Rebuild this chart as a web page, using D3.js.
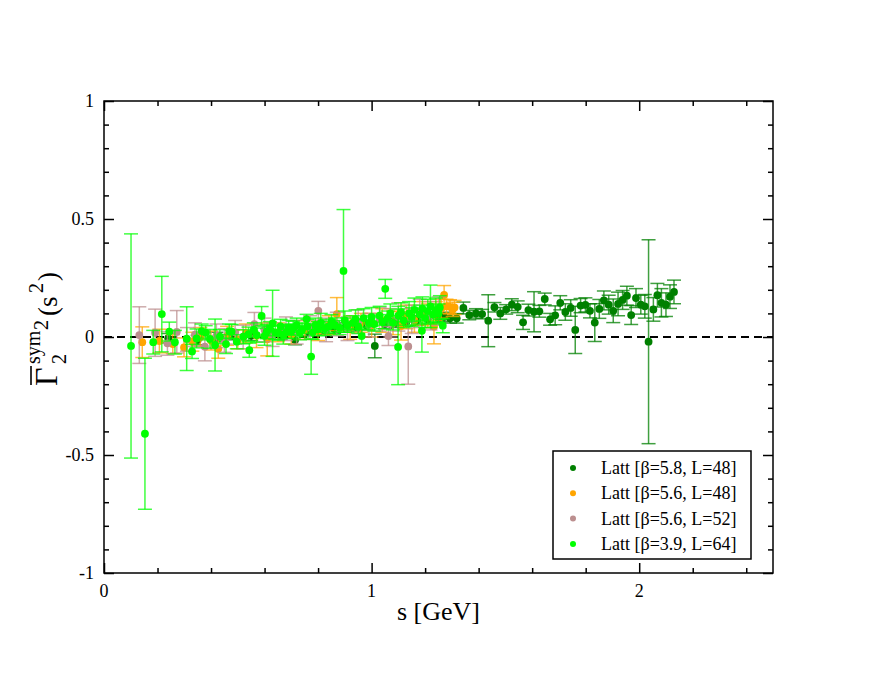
<!DOCTYPE html>
<html><head><meta charset="utf-8">
<script src="https://cdn.jsdelivr.net/npm/d3@7"></script>
<style>body{margin:0;background:#fff}svg{display:block}text{font-family:"Liberation Serif","Times New Roman",serif}</style>
</head><body>
<svg id="c" width="872" height="674"></svg>
<script>
// data: [s, value, error]
const seriesNames = ["Latt [β=5.8, L=48]","Latt [β=5.6, L=48]","Latt [β=5.6, L=52]","Latt [β=3.9, L=64]"];
const seriesColors = ["#008000","#ffa500","#bc8f8f","#00ff00"];
const darkGreen = [
[0.24,-0.005,0.02],[0.35,-0.013,0.02],[0.42,0.0,0.02],[0.48,0.008,0.02],[0.55,0.005,0.02],[0.61,0.015,0.02],[0.66,0.01,0.02],[0.714,-0.013,0.02],[0.76,0.025,0.02],[0.82,0.03,0.02],[0.86,0.035,0.02],[0.9,0.04,0.02],[0.94,0.045,0.02],[0.98,0.05,0.02],[1.012,-0.038,0.05],[1.05,0.055,0.02],[1.09,0.06,0.02],[1.13,0.065,0.02],[1.17,0.07,0.02],[1.21,0.075,0.02],[1.25,0.08,0.02],[1.27,0.085,0.02],
[1.293,0.079,0.02],[1.318,0.079,0.02],[1.343,0.123,0.025],[1.365,0.093,0.02],[1.390,0.100,0.02],[1.413,0.097,0.02],[1.436,0.069,0.11],[1.459,0.126,0.02],[1.481,0.100,0.025],[1.503,0.117,0.02],[1.524,0.137,0.025],[1.546,0.128,0.025],[1.566,0.062,0.03],[1.586,0.114,0.025],[1.607,0.107,0.085],[1.627,0.109,0.025],[1.647,0.161,0.025],[1.667,0.075,0.025],[1.686,0.092,0.04],[1.705,0.145,0.03],[1.724,0.106,0.035],[1.744,0.123,0.035],[1.761,0.030,0.10],[1.781,0.133,0.03],[1.799,0.136,0.03],[1.816,0.111,0.03],[1.834,0.061,0.08],[1.851,0.119,0.04],[1.868,0.155,0.04],[1.886,0.137,0.04],[1.903,0.111,0.05],[1.921,0.140,0.05],[1.938,0.157,0.04],[1.954,0.175,0.04],[1.970,0.093,0.04],[1.988,0.165,0.04],[2.006,0.137,0.04],[2.021,0.130,0.05],[2.035,-0.020,0.432],[2.053,0.117,0.05],[2.068,0.177,0.05],[2.083,0.145,0.06],[2.100,0.137,0.05],[2.115,0.171,0.05],[2.130,0.191,0.05]
];
const orange = [
[0.143,-0.022,0.065],[0.207,-0.017,0.05],[0.257,-0.030,0.04],[0.299,-0.044,0.04],[0.33,-0.02,0.04],[0.36,0.0,0.04],[0.40,-0.015,0.04],[0.427,-0.050,0.04],[0.46,0.005,0.04],[0.50,-0.01,0.04],[0.53,0.015,0.04],[0.57,0.005,0.05],[0.610,-0.010,0.07],[0.65,0.02,0.04],[0.70,0.01,0.04],[0.75,0.03,0.04],[0.80,0.025,0.04],[0.84,0.05,0.04],[0.870,0.097,0.07],[0.92,0.04,0.05],[0.96,0.06,0.04],[1.00,0.05,0.05],[1.04,0.07,0.05],[1.08,0.06,0.05],[1.110,0.047,0.06],[1.13,0.085,0.05],[1.16,0.07,0.05],[1.19,0.1,0.05],[1.21,0.09,0.05],[1.233,0.044,0.073],[1.24,0.11,0.04],[1.26,0.12,0.04],[1.271,0.178,0.04],[1.28,0.13,0.03],[1.293,0.128,0.03],[1.303,0.117,0.03],[1.31,0.125,0.03]
];
const rosyBrown = [
[0.132,0.008,0.12],[0.191,0.018,0.10],[0.237,-0.027,0.05],[0.272,0.022,0.09],[0.31,-0.01,0.05],[0.34,0.01,0.05],[0.377,-0.041,0.06],[0.42,0.005,0.05],[0.45,-0.015,0.05],[0.49,0.02,0.05],[0.52,0.0,0.05],[0.562,0.054,0.05],[0.6,0.03,0.05],[0.63,0.01,0.05],[0.68,0.035,0.05],[0.72,0.02,0.05],[0.77,0.04,0.05],[0.801,0.111,0.04],[0.83,0.03,0.05],[0.87,0.055,0.05],[0.91,0.035,0.05],[0.95,0.065,0.05],[0.99,0.05,0.05],[1.03,0.075,0.05],[1.063,0.004,0.04],[1.07,0.06,0.06],[1.10,0.085,0.06],[1.137,-0.040,0.16],[1.15,0.075,0.06],[1.18,0.1,0.06],[1.22,0.09,0.06],[1.25,0.11,0.06]
];
const brightGreen = [
[0.101,-0.038,0.475],[0.153,-0.41,0.32],[0.184,-0.022,0.05],[0.216,0.097,0.16],[0.244,0.023,0.04],[0.265,-0.022,0.05],[0.309,-0.007,0.135],[0.329,-0.061,0.03],[0.346,-0.006,0.04],[0.365,0.025,0.03],[0.380,0.018,0.03],[0.396,-0.008,0.04],[0.415,-0.034,0.11],[0.433,0.001,0.03],[0.456,-0.030,0.04],[0.468,0.025,0.03],[0.477,0.023,0.03],[0.496,-0.020,0.03],[0.521,0.001,0.03],[0.54,0.012,0.03],[0.543,-0.056,0.03],[0.56,0.03,0.03],[0.571,0.008,0.03],[0.589,0.089,0.04],[0.6,0.005,0.04],[0.608,0.023,0.03],[0.62,0.035,0.03],[0.630,0.058,0.14],[0.64,0.02,0.03],[0.651,0.016,0.03],[0.66,0.045,0.03],[0.67,0.01,0.04],[0.683,0.023,0.03],[0.69,0.04,0.03],[0.70,0.025,0.03],[0.707,0.037,0.03],[0.72,0.05,0.03],[0.732,0.018,0.03],[0.74,0.03,0.03],[0.757,0.076,0.02],[0.76,0.045,0.03],[0.774,-0.083,0.075],[0.78,0.02,0.03],[0.79,0.05,0.03],[0.80,0.035,0.03],[0.81,0.06,0.04],[0.826,0.037,0.03],[0.84,0.045,0.03],[0.85,0.065,0.03],[0.863,0.051,0.03],[0.88,0.04,0.03],[0.895,0.280,0.26],[0.90,0.07,0.04],[0.91,0.05,0.03],[0.93,0.06,0.03],[0.94,0.075,0.04],[0.95,0.045,0.03],[0.963,0.004,0.03],[0.97,0.08,0.04],[0.99,0.06,0.03],[1.00,0.085,0.04],[1.01,0.055,0.03],[1.03,0.09,0.04],[1.04,0.065,0.03],[1.051,0.204,0.04],[1.06,0.08,0.03],[1.07,0.1,0.04],[1.08,0.06,0.03],[1.099,-0.042,0.16],[1.10,0.09,0.04],[1.11,0.105,0.04],[1.12,0.07,0.03],[1.14,0.1,0.05],[1.15,0.085,0.04],[1.16,0.115,0.05],[1.18,0.095,0.04],[1.188,0.026,0.09],[1.19,0.12,0.05],[1.20,0.08,0.04],[1.21,0.11,0.05],[1.22,0.13,0.09],[1.23,0.095,0.04],[1.24,0.115,0.05],[1.25,0.1,0.04],[1.255,0.125,0.05],[1.266,0.048,0.03]
];
const allSeries = [darkGreen, orange, rosyBrown, brightGreen];
const xTicks = [0, 1, 2];
const xTickLabels = ["0", "1", "2"];
const yTicks = [-1, -0.5, 0, 0.5, 1];
const yTickLabels = ["-1", "-0.5", "0", "0.5", "1"];
const xTitle = "s [GeV]";

const L = 104, R = 773, T = 101, B = 573;
const x = d3.scaleLinear().domain([0, 2.5]).range([L, R]);
const y = d3.scaleLinear().domain([-1, 1]).range([B, T]);
const svg = d3.select("#c");

// zero dashed line
svg.append("line").attr("x1", x(0)).attr("x2", x(2.5)).attr("y1", y(0)).attr("y2", y(0))
  .attr("stroke", "#000").attr("stroke-width", 2).attr("stroke-dasharray", "8,5");

// series
allSeries.forEach((data, i) => {
  const g = svg.append("g");
  const col = seriesColors[i];
  const eb = g.append("g").attr("stroke", col).attr("stroke-width", 1.5).attr("stroke-opacity", 0.75);
  data.forEach(d => {
    const xp = x(d[0]), yt = y(d[1] + d[2]), yb = y(d[1] - d[2]);
    eb.append("line").attr("x1", xp).attr("x2", xp).attr("y1", yt).attr("y2", yb);
    eb.append("line").attr("x1", xp - 7).attr("x2", xp + 7).attr("y1", yt).attr("y2", yt);
    eb.append("line").attr("x1", xp - 7).attr("x2", xp + 7).attr("y1", yb).attr("y2", yb);
  });
  g.selectAll("circle").data(data).enter().append("circle")
    .attr("cx", d => x(d[0])).attr("cy", d => y(d[1])).attr("r", 3.9).attr("fill", col);
});

// frame
svg.append("rect").attr("x", L).attr("y", T).attr("width", R - L).attr("height", B - T)
  .attr("fill", "none").attr("stroke", "#000").attr("stroke-width", 1.5);

// axes (ticks inward on all sides)
const xMinor = d3.range(0, 2.5001, 0.2).filter(v => Math.abs(v - Math.round(v)) > 1e-6);
const yMinor = d3.range(-1, 1.0001, 0.1).filter(v => Math.abs(v * 2 - Math.round(v * 2)) > 1e-6);
function axisG(axis, tr) { const g = svg.append("g").attr("transform", tr).call(axis); g.select(".domain").remove(); g.selectAll("line").attr("stroke", "#000").attr("stroke-width", 1.5); return g; }
axisG(d3.axisBottom(x).tickValues(xTicks).tickSize(-10).tickFormat(""), `translate(0,${B})`);
axisG(d3.axisBottom(x).tickValues(xMinor).tickSize(-5).tickFormat(""), `translate(0,${B})`);
axisG(d3.axisTop(x).tickValues(xTicks).tickSize(-10).tickFormat(""), `translate(0,${T})`);
axisG(d3.axisTop(x).tickValues(xMinor).tickSize(-5).tickFormat(""), `translate(0,${T})`);
axisG(d3.axisLeft(y).tickValues(yTicks).tickSize(-10).tickFormat(""), `translate(${L},0)`);
axisG(d3.axisLeft(y).tickValues(yMinor).tickSize(-5).tickFormat(""), `translate(${L},0)`);
axisG(d3.axisRight(y).tickValues(yTicks).tickSize(-10).tickFormat(""), `translate(${R},0)`);
axisG(d3.axisRight(y).tickValues(yMinor).tickSize(-5).tickFormat(""), `translate(${R},0)`);

// tick labels
svg.append("g").selectAll("text").data(xTicks).enter().append("text")
  .attr("x", d => x(d)).attr("y", B + 24).attr("text-anchor", "middle").attr("font-size", 18)
  .text((d, i) => xTickLabels[i]);
svg.append("g").selectAll("text").data(yTicks).enter().append("text")
  .attr("x", L - 10).attr("y", d => y(d) + 6).attr("text-anchor", "end").attr("font-size", 18)
  .text((d, i) => yTickLabels[i]);

// x title
svg.append("text").attr("x", (L + R) / 2).attr("y", 620).attr("text-anchor", "middle")
  .attr("font-size", 26).text(xTitle);

// y title (rotated)
const yt = svg.append("g").attr("transform", "translate(57,386) rotate(-90)");
yt.append("text").attr("x", 0).attr("y", 0).attr("font-size", 32).text("Γ");
yt.append("line").attr("x1", 1).attr("x2", 20).attr("y1", -26).attr("y2", -26).attr("stroke", "#000").attr("stroke-width", 1.6);
yt.append("text").attr("x", 22).attr("y", 9).attr("font-size", 20).text("2");
yt.append("text").attr("x", 22).attr("y", -17).attr("font-size", 20).text("sym");
yt.append("text").attr("x", 56).attr("y", -9).attr("font-size", 20).text("2");
yt.append("text").attr("x", 70).attr("y", 0).attr("font-size", 27).text("(s");
yt.append("text").attr("x", 93).attr("y", -14).attr("font-size", 20).text("2");
yt.append("text").attr("x", 105).attr("y", 0).attr("font-size", 27).text(")");

// legend
const lg = svg.append("g");
lg.append("rect").attr("x", 553).attr("y", 451).attr("width", 198).attr("height", 108)
  .attr("fill", "#fff").attr("stroke", "#000").attr("stroke-width", 1.5);
seriesNames.forEach((n, i) => {
  const yy = 468 + i * 25.3;
  lg.append("circle").attr("cx", 573).attr("cy", yy).attr("r", 3).attr("fill", seriesColors[i]);
  lg.append("text").attr("x", 601).attr("y", yy + 6).attr("font-size", 18).text(n);
});
</script>
</body></html>
